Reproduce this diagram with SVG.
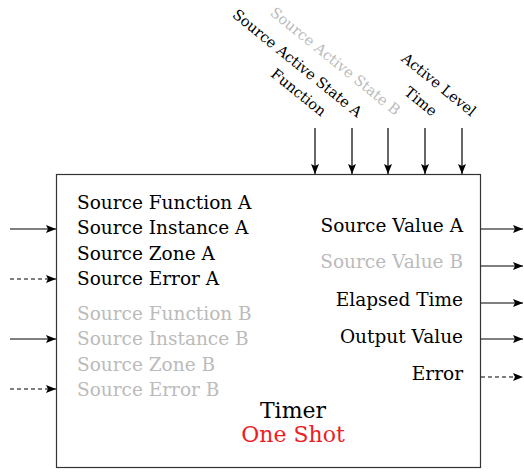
<svg xmlns="http://www.w3.org/2000/svg" width="524" height="472" viewBox="0 0 524 472">
<style>
text{font-family:"DejaVu Serif","Liberation Serif",serif;font-size:18.5px;fill:#000}
.g{fill:#bbbbbb}
.r{text-anchor:end}
.rot{font-size:14.6px;text-anchor:end}
.big{font-size:22px;text-anchor:middle}
.red{fill:#ee1c24}
.ln{stroke:#000;stroke-width:1.2;fill:none}
.d{stroke-dasharray:4 3}
</style>
<defs>
<marker id="ah" viewBox="0 0 10 10" refX="10" refY="5" markerWidth="10" markerHeight="10" markerUnits="userSpaceOnUse" orient="auto">
<path d="M0,1 L10,5 L0,9 L2,5 Z" fill="#000"/>
</marker>
</defs>
<g id="timer">
<rect x="56.5" y="174.5" width="424" height="293" fill="#fff" stroke="#333" stroke-width="1.2"/>
<text x="77" y="208.5">Source Function A</text>
<text x="77" y="234">Source Instance A</text>
<text x="77" y="259.5">Source Zone A</text>
<text x="77" y="285">Source Error A</text>
<text x="77" y="319.5" class="g">Source Function B</text>
<text x="77" y="345" class="g">Source Instance B</text>
<text x="77" y="370.5" class="g">Source Zone B</text>
<text x="77" y="396" class="g">Source Error B</text>
<text x="463" y="232" class="r">Source Value A</text>
<text x="463" y="268" class="r g">Source Value B</text>
<text x="463" y="306" class="r">Elapsed Time</text>
<text x="463" y="343" class="r">Output Value</text>
<text x="463" y="380" class="r">Error</text>
<text x="293" y="418" class="big">Timer</text>
<text x="293" y="442" class="big red">One Shot</text>
</g>
<g id="labels">
<text class="rot" transform="translate(321,117) rotate(39)">Function</text>
<text class="rot" transform="translate(357,118) rotate(39)">Source Active State A</text>
<text class="rot g" transform="translate(395,116) rotate(39)">Source Active State B</text>
<text class="rot" transform="translate(432,117) rotate(39)">Time</text>
<text class="rot" transform="translate(471,117) rotate(39)">Active Level</text>
</g>
<g id="connectors">
<line class="ln" x1="10" y1="229" x2="56" y2="229" marker-end="url(#ah)"/>
<line class="ln d" x1="10" y1="279" x2="56" y2="279" marker-end="url(#ah)"/>
<line class="ln" x1="10" y1="339" x2="56" y2="339" marker-end="url(#ah)"/>
<line class="ln d" x1="10" y1="389" x2="56" y2="389" marker-end="url(#ah)"/>
<line class="ln" x1="481" y1="229" x2="523" y2="229" marker-end="url(#ah)"/>
<line class="ln" x1="481" y1="266" x2="523" y2="266" marker-end="url(#ah)"/>
<line class="ln" x1="481" y1="303" x2="523" y2="303" marker-end="url(#ah)"/>
<line class="ln" x1="481" y1="339" x2="523" y2="339" marker-end="url(#ah)"/>
<line class="ln d" x1="481" y1="377" x2="523" y2="377" marker-end="url(#ah)"/>
<line class="ln" x1="315" y1="128" x2="315" y2="174" marker-end="url(#ah)"/>
<line class="ln" x1="352" y1="128" x2="352" y2="174" marker-end="url(#ah)"/>
<line class="ln" x1="388" y1="128" x2="388" y2="174" marker-end="url(#ah)"/>
<line class="ln" x1="425" y1="128" x2="425" y2="174" marker-end="url(#ah)"/>
<line class="ln" x1="462" y1="128" x2="462" y2="174" marker-end="url(#ah)"/>
</g>
</svg>
